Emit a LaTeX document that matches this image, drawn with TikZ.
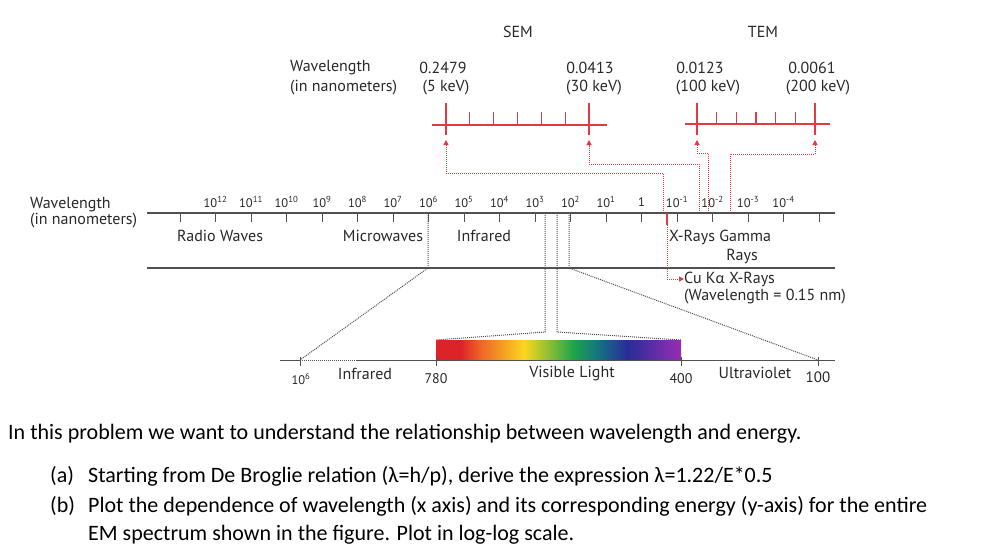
\documentclass[tikz,border=0pt]{standalone}
\usepackage{fontspec}
\setmainfont{PT Sans}
\newfontfamily\calibri{Carlito}
\usetikzlibrary{arrows.meta}

\definecolor{emred}{RGB}{226,58,66}
\definecolor{axisgray}{RGB}{80,80,80}
\definecolor{txtgray}{RGB}{40,40,40}
\definecolor{specred}{RGB}{220,35,40}
\definecolor{specorange}{RGB}{238,100,40}
\definecolor{specyellow}{RGB}{250,215,30}
\definecolor{specgreen}{RGB}{30,165,75}
\definecolor{specteal}{RGB}{20,115,130}
\definecolor{specblue}{RGB}{40,45,150}
\definecolor{specpurple}{RGB}{150,45,180}

\pgfdeclarehorizontalshading{spectrum}{100bp}{color(0bp)=(specred); color(25bp)=(specred);
  color(30bp)=(specred); color(34bp)=(specorange); color(43bp)=(specyellow);
  color(53bp)=(specgreen); color(58bp)=(specteal); color(64bp)=(specblue);
  color(75bp)=(specpurple); color(100bp)=(specpurple)}

\tikzset{
  lbl/.style={text=txtgray, font=\fontsize{16}{18}\selectfont, inner sep=0pt},
  ticklbl/.style={text=txtgray, font=\fontsize{12.5}{13}\selectfont, inner sep=0pt},
  axisline/.style={draw=axisgray, line width=1.3pt},
  tickmark/.style={draw=axisgray, line width=0.9pt},
  redscale/.style={draw=emred, line width=1.1pt},
  reddot/.style={draw=emred, densely dotted, line width=1pt},
  graydot/.style={draw=axisgray, densely dotted, line width=1pt},
  question/.style={font=\calibri\fontsize{22}{24}\selectfont, inner sep=0pt, anchor=west}
}

\begin{document}
\begin{tikzpicture}[x=1pt, y=-1pt]
  \useasboundingbox (0,0) rectangle (982,549);

  % Microscope headings and top wavelengths
  \node[lbl] (sem) at (518,32) {SEM};
  \node[lbl] (tem) at (763,32) {TEM};
  \node[lbl, anchor=west] (topwl) at (290,68) {Wavelength};
  \node[lbl, anchor=west] (topnm) at (290,88) {(in nanometers)};
  \node[lbl] (wlfive) at (443,68) {0.2479};
  \node[lbl] (kevfive) at (446,88) {(5 keV)};
  \node[lbl] (wlthirty) at (590,68) {0.0413};
  \node[lbl] (kevthirty) at (594,88) {(30 keV)};
  \node[lbl] (wlhundred) at (700,68) {0.0123};
  \node[lbl] (kevhundred) at (708,88) {(100 keV)};
  \node[lbl] (wltwohundred) at (812,68) {0.0061};
  \node[lbl] (kevtwohundred) at (818,88) {(200 keV)};

  % Red SEM scale
  \draw[redscale] (432,125) -- (607,125);
  \draw[redscale] (446,103) -- (446,135);
  \draw[redscale] (589,103) -- (589,135);
  \foreach \i in {1,...,5}
    \draw[redscale] (446+23.83*\i,112) -- (446+23.83*\i,125);
  % Red TEM scale
  \draw[redscale] (685,124) -- (830,124);
  \draw[redscale] (697,103) -- (697,135);
  \draw[redscale] (815,103) -- (815,135);
  \foreach \i in {1,...,5}
    \draw[redscale] (697+19.67*\i,112) -- (697+19.67*\i,124);

  % Points where the energies meet the spectrum
  \coordinate (atfive) at (663,213);
  \coordinate (atthirty) at (699,213);
  \coordinate (athundred) at (708,213);
  \coordinate (attwohundred) at (730,213);
  \coordinate (scfive) at (446,140);
  \coordinate (scthirty) at (589,140);
  \coordinate (schundred) at (697,140);
  \coordinate (sctwohundred) at (815,140);

  % Red dotted leaders up to the scales
  \draw[reddot, -{Triangle[length=5pt, width=5pt]}] (atfive) |- (446,173) -- (scfive);
  \draw[reddot, -{Triangle[length=5pt, width=5pt]}] (atthirty) |- (589,164) -- (scthirty);
  \draw[reddot, -{Triangle[length=5pt, width=5pt]}] (athundred) |- (697,153) -- (schundred);
  \draw[reddot, -{Triangle[length=5pt, width=5pt]}] (attwohundred) |- (815,154) -- (sctwohundred);

  % Main spectrum axis
  \node[lbl, anchor=west] (midwl) at (30,205) {Wavelength};
  \node[lbl, anchor=west] (midnm) at (30,221) {(in nanometers)};
  \draw[axisline] (147,213) -- (835,213);
  \draw[axisline] (147,268) -- (835,268);
  \foreach \k in {0,...,18}
    \draw[tickmark] (180+35.5*\k,213) -- (180+35.5*\k,222);
  \foreach \k/\e in {1/12,2/11,3/10,4/9,5/8,6/7,7/6,8/5,9/4,10/3,11/2,12/1,14/-1,15/-2,16/-3,17/-4}
    \node[ticklbl] at (180+35.5*\k,202) {10\textsuperscript{\e}};
  \node[ticklbl] (one) at (180+35.5*13,202) {1};

  % Region names
  \node[lbl] (radio) at (220,236) {Radio Waves};
  \node[lbl] (micro) at (383,236) {Microwaves};
  \node[lbl] (infra) at (484,236) {Infrared};
  \node[lbl, anchor=west] (xray) at (669,237) {X-Rays\ Gamma};
  \node[lbl] (gamma) at (742,256) {Rays};

  % Cu K-alpha marker
  \coordinate (cutop) at (667,213);
  \coordinate (cubot) at (667,225);
  \draw[redscale] (cutop) -- (cubot);
  \node[lbl, anchor=west] (cuka) at (684,279) {Cu K{\calibri α} X-Rays};
  \node[lbl, anchor=west] (cuwl) at (684,297) {(Wavelength = 0.15 nm)};
  \draw[reddot, -{Triangle[length=5pt, width=5pt]}] (cubot) |- (cuka.west);

  % Zoom into the visible part
  \coordinate (sixtop) at (428,213);
  \coordinate (sixbot) at (428,268);
  \coordinate (visl) at (545,213);
  \coordinate (visr) at (557,213);
  \coordinate (uvtop) at (569,213);
  \coordinate (uvbot) at (569,268);
  \coordinate (lowsix) at (300,360);
  \coordinate (lowred) at (436,340);
  \coordinate (lowviolet) at (681,340);
  \coordinate (lowhundred) at (818,360);
  \draw[graydot] (sixtop) -- (sixbot) -- (lowsix);
  \draw[graydot] (visl) -- (545,332) -- (lowred);
  \draw[graydot] (visr) -- (557,332) -- (lowviolet);
  \draw[graydot] (uvtop) -- (uvbot) -- (lowhundred);

  % Visible band
  \shade[shading=spectrum] (436,340) rectangle (681,360);
  \draw[tickmark] (280,360) -- (lowsix);
  \draw[graydot] (lowsix) -- (357,360);
  \draw[tickmark] (357,360) -- (835,360);
  \foreach \x in {300,436,681,818}
    \draw[tickmark] (\x,357) -- (\x,366);
  \node[ticklbl] (lsix) at (301,379) {10\textsuperscript{6}};
  \node[lbl] (linfra) at (365,374) {Infrared};
  \node[ticklbl, font=\fontsize{14}{14}\selectfont] (lsevn) at (436,379) {780};
  \node[lbl] (lvis) at (572,374) {Visible Light};
  \node[ticklbl, font=\fontsize{14}{14}\selectfont] (lfour) at (681,379) {400};
  \node[lbl] (luv) at (755,373) {Ultraviolet};
  \node[ticklbl, font=\fontsize{15}{15}\selectfont] (lhund) at (818,377) {100};

  % Problem text
  \node[question] (intro) at (8,434) {In this problem we want to understand the relationship between wavelength and energy.};
  \node[question] (parta) at (50,476) {(a)};
  \node[question] (texta) at (88,476) {Starting from De Broglie relation (λ=h/p), derive the expression λ=1.22/E*0.5};
  \node[question] (partb) at (50,506) {(b)};
  \node[question] (textb) at (88,506) {Plot the dependence of wavelength (x axis) and its corresponding energy (y-axis) for the entire};
  \node[question] (textc) at (88,535) {EM spectrum shown in the figure. Plot in log-log scale.};
\end{tikzpicture}
\end{document}
